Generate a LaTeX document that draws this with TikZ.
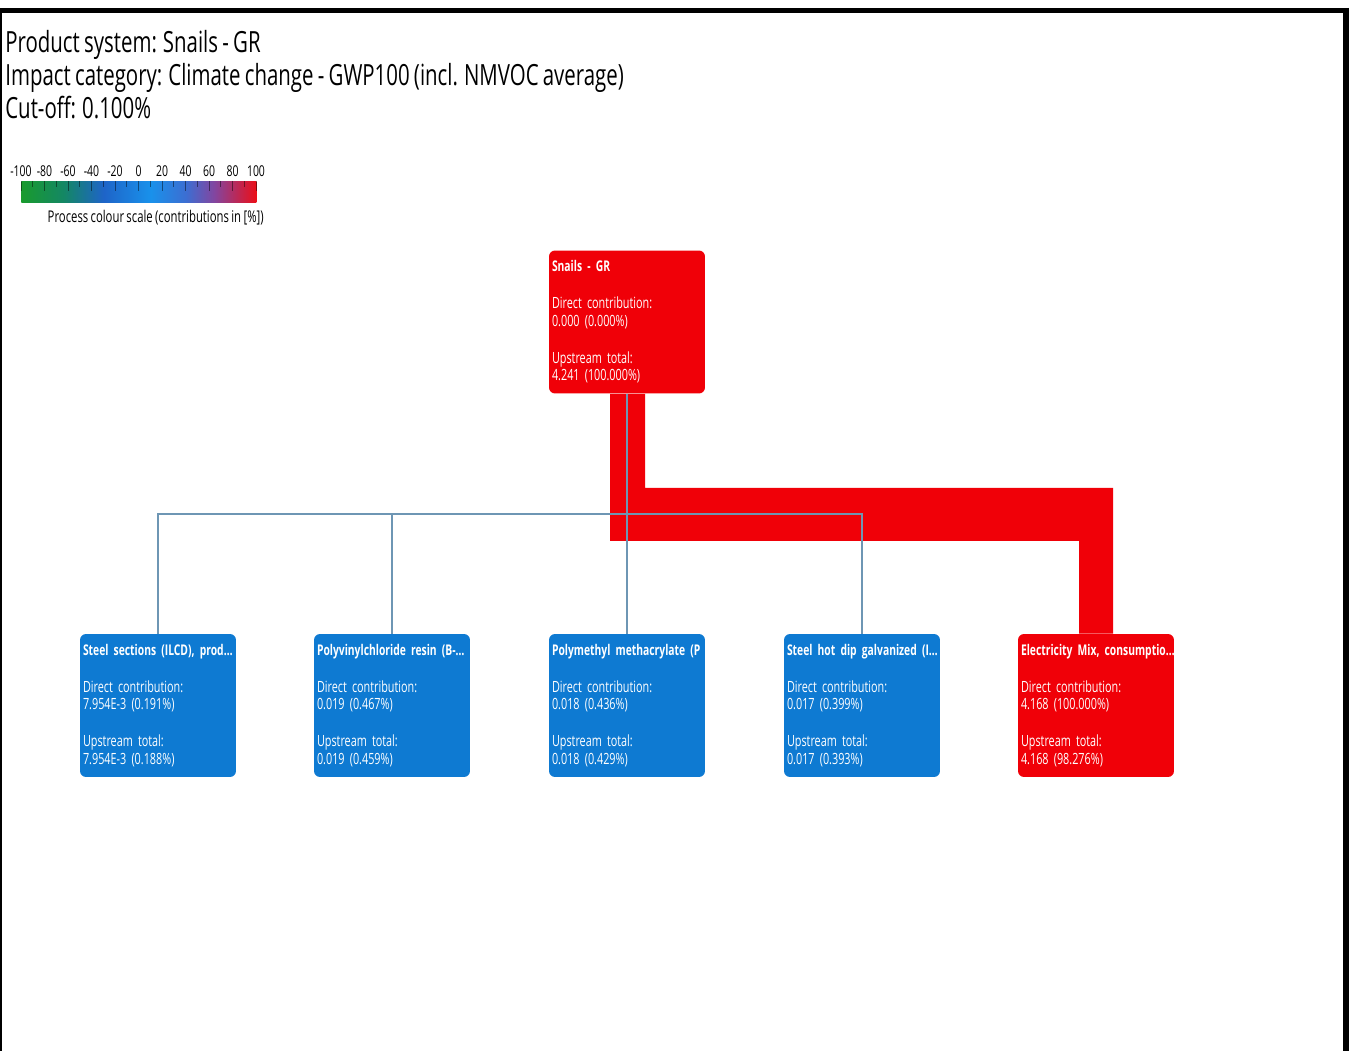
\documentclass[tikz,border=0pt]{standalone}
\usepackage{fontspec}
\setmainfont{Open Sans}[FakeStretch=0.7, WordSpace=0.8]
\usetikzlibrary{calc}

\definecolor{procred}{RGB}{240,0,8}
\definecolor{procblue}{RGB}{14,122,210}
\definecolor{linkgrey}{RGB}{110,150,180}
\definecolor{scgreen}{RGB}{25,155,45}
\definecolor{scteal}{RGB}{20,135,100}
\definecolor{scdeep}{RGB}{30,100,200}
\definecolor{scsky}{RGB}{25,145,235}
\definecolor{scmid}{RGB}{60,110,210}
\definecolor{scpurple}{RGB}{130,70,160}
\definecolor{scred}{RGB}{235,15,25}

\pgfdeclarehorizontalshading{colscale}{100bp}{color(0bp)=(scgreen); color(25bp)=(scgreen);
  color(34bp)=(scteal); color(42.5bp)=(scdeep); color(52.5bp)=(scsky); color(60bp)=(scmid);
  color(66bp)=(scpurple); color(75bp)=(scred); color(100bp)=(scred)}

\newcommand{\ptitle}[1]{\mbox{\fontsize{8.4}{10}\selectfont\bfseries #1}}

\begin{document}
\begin{tikzpicture}[x=0.02cm, y=-0.02cm]
        \tikzstyle{proc}=[rounded corners=3.4pt, minimum width=3.12cm,
            minimum height=2.86cm, inner xsep=0.06cm, inner ysep=0pt,
            text width=3.0cm, align=left, text=white,
            font=\fontsize{8.8}{10}\selectfont]
        \tikzstyle{hot}=[proc, fill=procred]
        \tikzstyle{cold}=[proc, fill=procblue]
        \tikzstyle{link}=[draw=linkgrey, line width=0.8pt]
        \tikzstyle{head}=[anchor=base west, inner sep=0pt,
            font=\fontsize{16.6}{19}\selectfont]

        \useasboundingbox (0, 0) rectangle (1353, 1051);
        \fill[white] (0, 0) rectangle (1353, 1051);

        % frame
        \draw[line width=0.1cm] (0, 10.5) -- (1346, 10.5);
        \draw[line width=0.12cm] (1346, 8) -- (1346, 1051);
        \draw[line width=0.04cm] (1, 10) -- (1, 1051);

        % header
        \node[head] (hdsys) at (5, 53) {Product system: Snails - GR};
        \node[head] (hdcat) at (5, 86) {Impact category: Climate change - GWP100 (incl. NMVOC average)};
        \node[head] (hdcut) at (5, 119) {Cut-off: 0.100\%};

        % colour scale
        \node[shading=colscale, minimum width=4.7cm, minimum height=0.42cm,
            inner sep=0pt, anchor=north west] (scalebar) at (21, 181) {};
        \foreach \i in {0,...,20} {
            \pgfmathsetmacro{\tl}{ifthenelse(mod(\i,2)==0, 10, 6)}
            \draw[black, opacity=0.45, line width=0.4pt]
                (21 + 11.75*\i, 181) -- ++(0, \tl);
        }
        \foreach \v [count=\i from 0] in {-100,-80,-60,-40,-20,0,20,40,60,80,100}
            \node[inner sep=0pt, font=\fontsize{8.5}{9}\selectfont]
                (tick\i) at (21 + 23.5*\i, 171) {\v};
        \node[anchor=east, inner sep=0pt, font=\fontsize{9.2}{10}\selectfont]
            (scalecap) at (264, 218) {Process colour scale (contributions in [\%])};

        % processes
        \node[hot] (snails) at (627, 322) {\ptitle{Snails - GR}\\[11pt]
            Direct contribution:\\0.000 (0.000\%)\\[11pt]
            Upstream total:\\4.241 (100.000\%)};

        \node[cold] (steel) at (158, 705.5) {\ptitle{Steel sections (ILCD), prod…}\\[11pt]
            Direct contribution:\\7.954E-3 (0.191\%)\\[11pt]
            Upstream total:\\7.954E-3 (0.188\%)};
        \node[cold] (pvc) at (392, 705.5) {\ptitle{Polyvinylchloride resin (B-…}\\[11pt]
            Direct contribution:\\0.019 (0.467\%)\\[11pt]
            Upstream total:\\0.019 (0.459\%)};
        \node[cold] (pmma) at (627, 705.5) {\ptitle{Polymethyl methacrylate (P}\\[11pt]
            Direct contribution:\\0.018 (0.436\%)\\[11pt]
            Upstream total:\\0.018 (0.429\%)};
        \node[cold] (hdg) at (862, 705.5) {\ptitle{Steel hot dip galvanized (I…}\\[11pt]
            Direct contribution:\\0.017 (0.399\%)\\[11pt]
            Upstream total:\\0.017 (0.393\%)};
        \node[hot] (elec) at (1096, 705.5) {\ptitle{Electricity Mix, consumptio…}\\[11pt]
            Direct contribution:\\4.168 (100.000\%)\\[11pt]
            Upstream total:\\4.168 (98.276\%)};

        % main flow
        \fill[procred] ($(snails.south) + (-17, 0)$) -- ++(35, 0) -- ++(0, 94)
            -| ($(elec.north) + (17, 0)$) -- ++(-34, 0)
            |- ($(snails.south) + (-17, 147)$) -- cycle;

        % links
        \foreach \c in {steel, pvc, pmma, hdg}
            \draw[link] (snails.south) -- ++(0, 120) -| (\c.north);
    \end{tikzpicture}
\end{document}
